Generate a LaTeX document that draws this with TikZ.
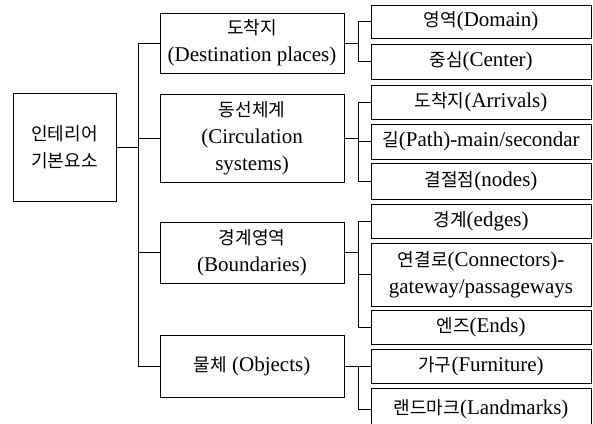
\documentclass[tikz,border=0pt]{standalone}
\usepackage{fontspec}
\setmainfont{Liberation Serif}
\newfontfamily\kr[Scale=0.86]{Noto Sans CJK KR}
\usetikzlibrary{positioning,calc}

\begin{document}
\begin{tikzpicture}[x=1pt, y=-1pt, font=\fontsize{21}{27}\selectfont,
  box/.style={draw, line width=1pt, align=center, inner sep=0pt, outer sep=0pt},
  top/.style={box, minimum width=184pt},
  leaf/.style={box, minimum width=220pt},
  link/.style={line width=0.9pt}]
  \useasboundingbox (0,0) rectangle (593,423);
  \node[box, minimum width=103pt, minimum height=108pt] (root) at (64.5,147)
    {{\kr 인테리어}\\{\kr 기본요소}};
  % first level
  \node[top, minimum height=60pt] (dest) at (252,43)
    {{\kr 도착지}\\(Destination places)};
  \node[top, minimum height=88pt] (circ) at (252,138)
    {{\kr 동선체계}\\(Circulation\\systems)};
  \node[top, minimum height=61pt] (bound) at (252,252.5)
    {{\kr 경계영역}\\(Boundaries)};
  \node[top, minimum height=62pt] (obj) at (252,366)
    {{\kr 물체} (Objects)};
  % second level
  \node[leaf, minimum height=33pt] (domain) at (481,21.5) {{\kr 영역}(Domain)};
  \node[leaf, minimum height=35pt] (center) at (481,61.5) {{\kr 중심}(Center)};
  \node[leaf, minimum height=34pt] (arriv) at (481,102) {{\kr 도착지}(Arrivals)};
  \node[leaf, minimum height=35pt] (path) at (481,141.5) {{\kr 길}(Path)-main/secondar};
  \node[leaf, minimum height=36pt] (nodes) at (481,181) {{\kr 결절점}(nodes)};
  \node[leaf, minimum height=34pt] (edges) at (481,221) {{\kr 경계}(edges)};
  \node[leaf, minimum height=63pt] (conn) at (481,274.5)
    {{\kr 연결로}(Connectors)-\\gateway/passageways};
  \node[leaf, minimum height=34pt] (ends) at (481,327) {{\kr 엔즈}(Ends)};
  \node[leaf, minimum height=34pt] (furn) at (481,366) {{\kr 가구}(Furniture)};
  \node[leaf, minimum height=42pt] (land) at (481,409) {{\kr 랜드마크}(Landmarks)};

  \coordinate (trunk) at (138,147);
  \draw[link] (root.east) -- (trunk);
  \foreach \n in {dest,circ,bound,obj}
    \draw[link] (trunk) |- (\n.west);
  \draw[link] (dest.east) -- ++(14,0) coordinate (jdest);
  \draw[link] (circ.east) -- ++(14,0) coordinate (jcirc);
  \draw[link] (bound.east) -- ++(14,0) coordinate (jbound);
  \draw[link] (obj.east) -- ++(14,0) coordinate (jobj);
  \foreach \n in {domain,center} \draw[link] (jdest) |- (\n.west);
  \foreach \n in {arriv,path,nodes} \draw[link] (jcirc) |- (\n.west);
  \foreach \n in {edges,conn,ends} \draw[link] (jbound) |- (\n.west);
  \foreach \n in {furn,land} \draw[link] (jobj) |- (\n.west);
\end{tikzpicture}
\end{document}
